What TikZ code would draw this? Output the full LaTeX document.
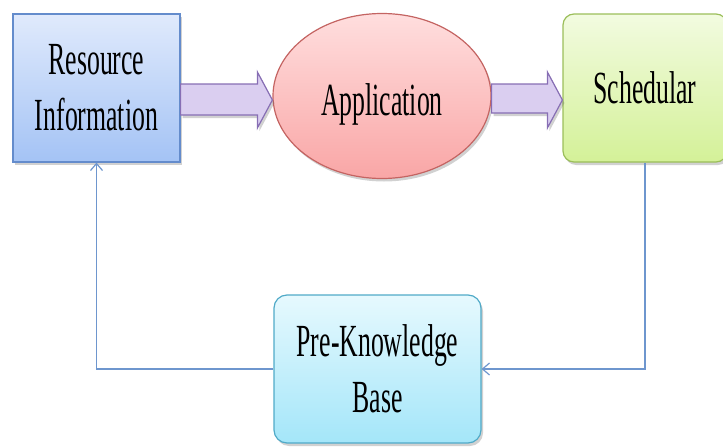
\documentclass[tikz,border=0pt]{standalone}
\usepackage{fontspec}
\newfontfamily\condfont[FakeStretch=0.56]{Liberation Serif}
\usetikzlibrary{shapes.geometric,shadows,calc,arrows.meta}
\definecolor{resTop}{RGB}{224,234,252}
\definecolor{resBot}{RGB}{164,195,245}
\definecolor{resLine}{RGB}{100,140,204}
\definecolor{appTop}{RGB}{255,222,222}
\definecolor{appBot}{RGB}{249,166,166}
\definecolor{appLine}{RGB}{196,100,98}
\definecolor{schTop}{RGB}{242,251,224}
\definecolor{schBot}{RGB}{212,241,152}
\definecolor{schLine}{RGB}{155,190,90}
\definecolor{pkbTop}{RGB}{230,249,254}
\definecolor{pkbBot}{RGB}{164,230,249}
\definecolor{pkbLine}{RGB}{80,170,200}
\definecolor{arrFill}{RGB}{218,206,240}
\definecolor{arrLine}{RGB}{135,110,180}
\definecolor{loopLine}{RGB}{110,150,206}
\tikzset{
  shad/.style={drop shadow={shadow xshift=2pt,shadow yshift=-3pt,opacity=0.3,fill=black!60}},
  boxtext/.style={font=\condfont\fontsize{46}{56}\selectfont,align=center,text=black,inner sep=0pt},
  resbox/.style={boxtext,shad,rectangle,draw=resLine,line width=1.2pt,top color=resTop,bottom color=resBot,minimum width=167pt,minimum height=148pt},
  appell/.style={shad,ellipse,draw=appLine,line width=1.2pt,top color=appTop,bottom color=appBot,minimum width=218pt,minimum height=165pt,inner sep=0pt},
  schbox/.style={boxtext,shad,rectangle,rounded corners=11pt,draw=schLine,line width=1.2pt,top color=schTop,bottom color=schBot,minimum width=164pt,minimum height=148pt},
  pkbbox/.style={boxtext,shad,rectangle,rounded corners=13pt,draw=pkbLine,line width=1.2pt,top color=pkbTop,bottom color=pkbBot,minimum width=207pt,minimum height=148pt},
  blockarrow/.style={draw=arrLine,line width=1.2pt,fill=arrFill,line join=miter,shad},
  loop/.style={draw=loopLine,line width=1.2pt,-{Straight Barb[length=7pt,width=12pt]}}
}
\begin{document}
\begin{tikzpicture}[x=1pt,y=-1pt]
\useasboundingbox (0,0) rectangle (723,447);
\node[resbox] (res) at (96.5,88) {Resource\\Information};
\node[appell] (app) at (382,96) {};
\node[boxtext] (applbl) at (382,104) {Application};
\node[schbox] (sch) at (645,88) {Schedular};
\node[pkbbox] (pkb) at (377.5,369) {Pre-Knowledge\\Base};
% block arrows
\draw[blockarrow] (res.east |- 0,84) -- ($(app.west |- 0,84)+(-15,0)$) -- ($(app.west |- 0,72)+(-15,0)$)
  -- (app.west |- 0,100) -- ($(app.west |- 0,128)+(-15,0)$) -- ($(app.west |- 0,115)+(-15,0)$) -- (res.east |- 0,115) -- cycle;
\draw[blockarrow] (app.east |- 0,84) -- ($(sch.west |- 0,84)+(-15,0)$) -- ($(sch.west |- 0,72)+(-15,0)$)
  -- (sch.west |- 0,100) -- ($(sch.west |- 0,128)+(-15,0)$) -- ($(sch.west |- 0,113)+(-15,0)$) -- (app.east |- 0,113) -- cycle;
% feedback loop
\draw[loop] (sch.south) |- (pkb.east);
\draw[loop] (pkb.west) -| (res.south);
\end{tikzpicture}
\end{document}
